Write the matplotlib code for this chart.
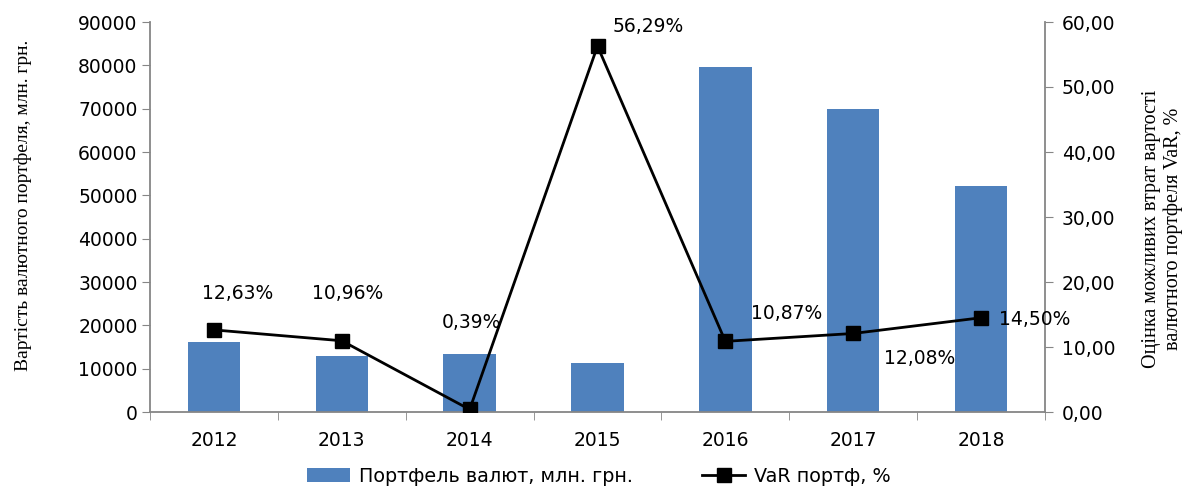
import numpy as np
import matplotlib.pyplot as plt
from matplotlib.ticker import FuncFormatter

years = ['2012', '2013', '2014', '2015', '2016', '2017', '2018']
portfolio = [16200, 12900, 13400, 11300, 79600, 69900, 52100]
var_pct = [12.63, 10.96, 0.39, 56.29, 10.87, 12.08, 14.50]
var_labels = ['12,63%', '10,96%', '0,39%', '56,29%', '10,87%', '12,08%', '14,50%']

# label offsets in pixels from the point (dx, dy, ha)
label_off = [(24, 36, 'center'), (6, 47, 'center'), (2, 87, 'center'),
             (51, 20, 'center'), (61, 28, 'center'), (66, -25, 'center'),
             (18, -2, 'left')]

grey = '#868686'
blue = '#4F81BD'
fs = 13.5
plt.rcParams['font.family'] = 'DejaVu Sans'

fig = plt.figure(figsize=(11.84, 4.86), dpi=100)
ax = fig.add_axes([150/1184, 1-412/486, 895/1184, 390/486])
x = np.arange(len(years))
bars = ax.bar(x, portfolio, width=0.41, color=blue, zorder=2,
              label='Портфель валют, млн. грн.')
ax.set_xlim(-0.5, 6.5)
ax.set_ylim(0, 90000)
ax.set_yticks(np.arange(0, 90001, 10000))
ax.set_xticks(x)
ax.set_xticklabels(years)
ax.set_xticks(np.arange(-0.5, 7, 1), minor=True)
ax.tick_params(axis='x', which='major', length=0, pad=14, labelsize=fs)
ax.tick_params(axis='x', which='minor', length=6, color=grey, direction='out')
ax.tick_params(axis='y', length=6, color=grey, labelsize=fs, pad=3)
for s in ['top', 'right']:
    ax.spines[s].set_visible(False)
ax.spines['left'].set_color(grey)
ax.spines['bottom'].set_color(grey)
ax.spines['left'].set_linewidth(1.3)
ax.spines['bottom'].set_linewidth(1.3)
ax.set_ylabel('Вартість валютного портфеля, млн. грн.', family='Liberation Serif',
              fontsize=14)
ax.yaxis.set_label_coords(-0.132, 0.53)

ax2 = ax.twinx()
line, = ax2.plot(x, var_pct, color='black', lw=2, marker='s', ms=10,
                 label='VaR портф, %', zorder=3)
ax2.set_ylim(0, 60)
ax2.set_yticks(np.arange(0, 61, 10))
ax2.yaxis.set_major_formatter(FuncFormatter(lambda v, p: ('%.2f' % v).replace('.', ',')))
ax2.tick_params(axis='y', length=6, color=grey, labelsize=fs, pad=6)
for s in ['top', 'left', 'bottom']:
    ax2.spines[s].set_visible(False)
ax2.spines['right'].set_color(grey)
ax2.spines['right'].set_linewidth(1.3)
ax2.set_ylabel('Оцінка можливих втрат вартості\nвалютного портфеля VaR, %',
               family='Liberation Serif', fontsize=14.5)
ax2.yaxis.set_label_coords(1.108, 0.47)

for xi, yi, lab, (dx, dy, ha) in zip(x, var_pct, var_labels, label_off):
    ax2.annotate(lab, (xi, yi), xytext=(dx, dy), textcoords='offset pixels',
                 ha=ha, va='center', fontsize=fs)

fig.legend([bars, line], ['Портфель валют, млн. грн.', 'VaR портф, %'],
           loc='center', bbox_to_anchor=(599/1184, 1-476/486), ncol=2,
           frameon=False, fontsize=13.8, handlelength=2.24, handleheight=0.8,
           handletextpad=0.47, columnspacing=3.6)

fig.savefig('out.png', dpi=100)
